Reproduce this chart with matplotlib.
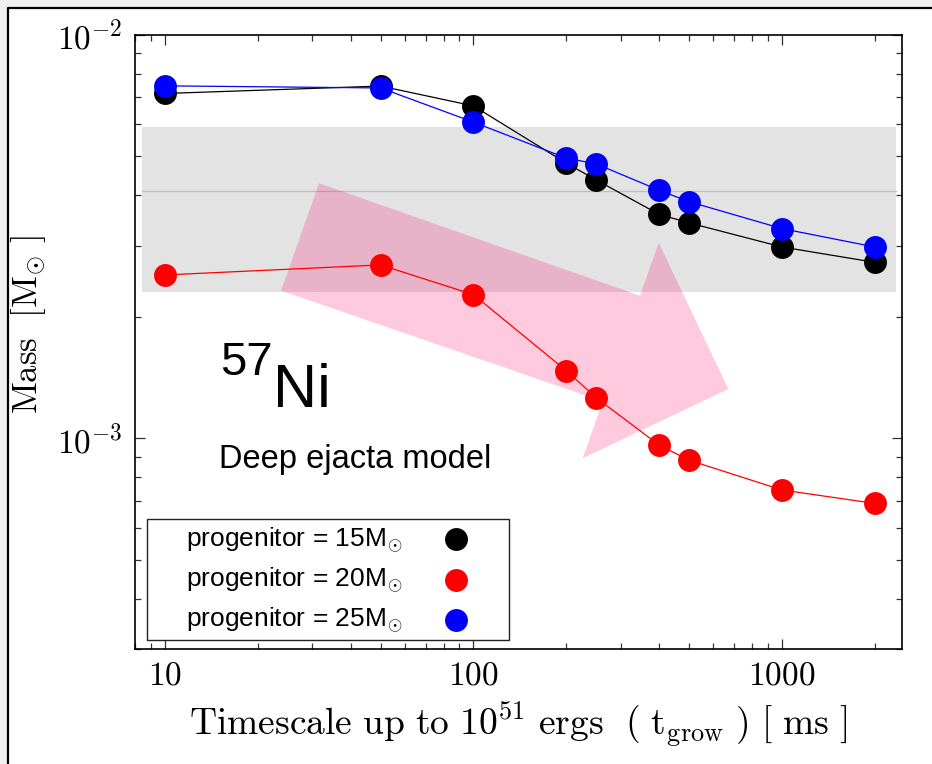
import matplotlib
matplotlib.use("Agg")
import matplotlib.pyplot as plt
from matplotlib.lines import Line2D
from matplotlib.patches import Polygon, Rectangle
from matplotlib.ticker import LogLocator, NullFormatter

plt.rcParams['mathtext.fontset'] = 'cm'
plt.rcParams['font.family'] = ['Liberation Sans', 'DejaVu Sans']

# growth timescale up to 1e51 erg [ms]
t_grow = [10, 50, 100, 200, 250, 400, 500, 1000, 2000]

# 57Ni ejected mass [Msun] for each progenitor
ni57_m15 = [7.16e-3, 7.47e-3, 6.67e-3, 4.81e-3, 4.37e-3, 3.59e-3, 3.42e-3, 2.98e-3, 2.73e-3]
ni57_m20 = [2.54e-3, 2.69e-3, 2.27e-3, 1.47e-3, 1.26e-3, 9.61e-4, 8.82e-4, 7.44e-4, 6.89e-4]
ni57_m25 = [7.48e-3, 7.39e-3, 6.08e-3, 4.95e-3, 4.79e-3, 4.12e-3, 3.86e-3, 3.31e-3, 2.98e-3]

progenitors = [15, 20, 25]
series = [ni57_m15, ni57_m20, ni57_m25]
colors = ['black', 'red', 'blue']

# observed 57Ni mass and its error range
obs_ni57 = 4.1e-3
obs_lo, obs_hi = 2.3e-3, 5.9e-3

xticks = [10, 100, 1000]
xticklabels = [r'$\mathrm{10}$', r'$\mathrm{100}$', r'$\mathrm{1000}$']
yticks = [1e-3, 1e-2]
yticklabels = [r'$\mathrm{10^{-3}}$', r'$\mathrm{10^{-2}}$']

fig = plt.figure(figsize=(9.32, 7.64), dpi=100, facecolor='#f0f0f0')
# white page, framed on its top and left edges
x0, y0 = 7.5 / 932, 756.5 / 764
fig.patches.append(Rectangle((x0, 0), 1 - x0, y0, transform=fig.transFigure,
                             fc='white', ec='none', zorder=-5))
fig.lines.append(Line2D([x0, x0, 1], [0, y0, y0], transform=fig.transFigure,
                        color='black', lw=1.6, zorder=-4))

ax = fig.add_axes([0.1449, 0.1505, 0.8229, 0.8037])
ax.set_zorder(2)
ax.set_xscale('log')
ax.set_yscale('log')
ax.set_xlim(8, 2450)
ax.set_ylim(3e-4, 1e-2)

# observational band
ax.axhspan(obs_lo, obs_hi, xmin=0.009, xmax=0.992, color='#e3e3e3', lw=0, zorder=0.5)
ax.axhline(obs_ni57, xmin=0.009, xmax=0.992, color='#bdbdbd', lw=0.9, zorder=0.6)

# trend arrow
arrow = [(0.2399, 0.7585), (0.6584, 0.5754), (0.6828, 0.6617), (0.7735, 0.4235),
         (0.5837, 0.3106), (0.6099, 0.4033), (0.1904, 0.5836)]
ax.add_patch(Polygon(arrow, closed=True, transform=ax.transAxes,
                     fc=(1.0, 0.0, 0.4), alpha=0.21, lw=0, zorder=1))

for vals, c in zip(series, colors):
    ax.plot(t_grow, vals, color=c, lw=0.9, zorder=2)
    ax.plot(t_grow, vals, ls='none', marker='o', ms=16.5, mfc=c, mec='none', zorder=3)

ax.set_xticks(xticks)
ax.set_xticklabels(xticklabels)
ax.set_yticks(yticks)
ax.set_yticklabels(yticklabels)
ax.xaxis.set_minor_locator(LogLocator(base=10, subs=range(2, 10)))
ax.yaxis.set_minor_locator(LogLocator(base=10, subs=range(2, 10)))
ax.xaxis.set_minor_formatter(NullFormatter())
ax.yaxis.set_minor_formatter(NullFormatter())
ax.tick_params(which='both', direction='in', top=True, right=True,
               width=0.9, color='#333333', labelsize=24)
ax.tick_params(which='major', length=7.5)
ax.tick_params(which='minor', length=4.5)
ax.tick_params(axis='x', pad=8)
ax.tick_params(axis='y', pad=9)
for sp in ax.spines.values():
    sp.set_linewidth(1.2)

ax.set_xlabel(r'$\mathrm{Timescale\ up\ to\ 10^{51}\ ergs\ \ (\ t_{grow}\ )\ [\ ms\ ]}$',
              fontsize=27, labelpad=6)
ax.set_ylabel(r'$\mathrm{Mass\ \ [M_{\odot}\ ]}$', fontsize=25)
ax.yaxis.set_label_coords(-0.113, 0.528)

ax.text(0.1111, 0.4463, '57', transform=ax.transAxes, fontsize=34, va='baseline')
ax.text(0.1804, 0.3936, 'Ni', transform=ax.transAxes, fontsize=44, va='baseline')
ax.text(0.1089, 0.2943, 'Deep ejacta model', transform=ax.transAxes, fontsize=23.5,
        va='baseline')

# key: labels on the left, markers on the right
ax.add_patch(Rectangle((0.0156, 0.0147), 0.472, 0.197, transform=ax.transAxes,
                       fc='white', ec='#222222', lw=1.0, zorder=4))
row_y = [0.1669, 0.1010, 0.0358]
for m, c, yb in zip(progenitors, colors, row_y):
    ax.text(0.0661, yb, 'progenitor = %dM$_{\\odot}$' % m, transform=ax.transAxes,
            fontsize=19, va='baseline', zorder=5)
    ax.plot([0.4185], [yb + 0.0115], transform=ax.transAxes, marker='o', ms=16.5,
            mfc=c, mec='none', ls='none', zorder=5, clip_on=False)

fig.savefig('out.png', dpi=100, facecolor=fig.get_facecolor())
